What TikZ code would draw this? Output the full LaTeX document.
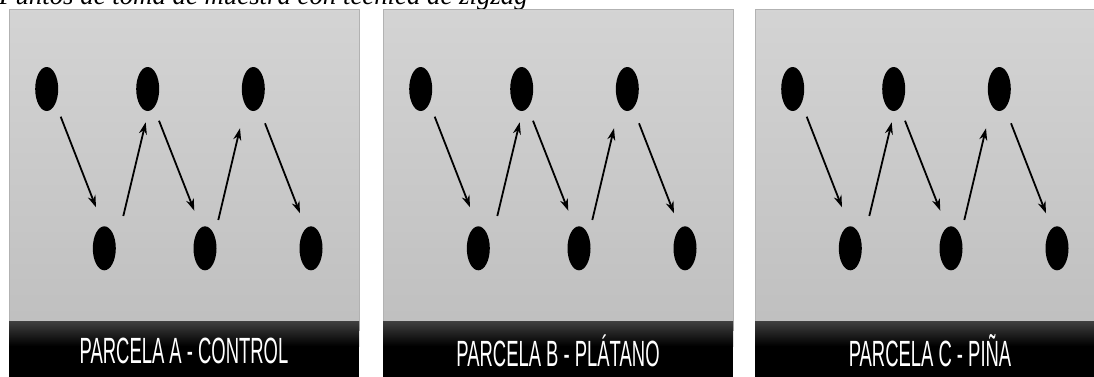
\documentclass[tikz,border=0pt]{standalone}
\usepackage{fontspec}
\setmainfont{Liberation Serif}
\newfontfamily\barfont{Liberation Sans}
\usetikzlibrary{shapes.geometric,arrows.meta}
\begin{document}
\begin{tikzpicture}[x=1pt,y=-1pt,
  dot/.style={ellipse,fill=black,minimum width=23pt,minimum height=44pt,inner sep=0pt},
  arr/.style={line width=1.8pt,-{Stealth[length=12pt,width=8pt]}},
  panelbox/.style={draw=black!30,line width=0.6pt,top color=black!17,bottom color=black!25},
  barshade/.style={top color=black!75,bottom color=black,draw=none},
  bartext/.style={text=white,font=\barfont\fontsize{36.5}{36.5}\selectfont,xscale=0.505,inner sep=0pt}]
\useasboundingbox (0,0) rectangle (1094,376);
\clip (0,0) rectangle (1094,376);
\node[anchor=base west,inner sep=0pt,font=\itshape\fontsize{26.8}{26.8}\selectfont] (title) at (-1,4.5) {Puntos de toma de muestra con técnica de zigzag};
\foreach \o/\lab/\k in {0/{PARCELA A - CONTROL}/a,374/{PARCELA B - PLÁTANO}/b,746/{PARCELA C - PIÑA}/c}{
  \begin{scope}[shift={(\o,0)}]
    \path[panelbox] (9,9) rectangle (359,330);
    \fill[black] (9,345) rectangle (359,380);
    \path[barshade] (9,321) rectangle (359,346);
    \node[bartext] (lab\k) at (184,350.5) {\lab};
    \node[dot] (d1\k) at (46.7,89) {};
    \node[dot] (d2\k) at (147.7,89) {};
    \node[dot] (d3\k) at (253.3,89) {};
    \node[dot] (d4\k) at (104.3,248.3) {};
    \node[dot] (d5\k) at (205,248.3) {};
    \node[dot] (d6\k) at (311,248.3) {};
    \draw[arr] ([shift={(14,27.7)}]d1\k.center) -- ([shift={(-8.3,-41)}]d4\k.center);
    \draw[arr] ([shift={(19,-32.3)}]d4\k.center) -- ([shift={(-2,33.3)}]d2\k.center);
    \draw[arr] ([shift={(11.3,31.7)}]d2\k.center) -- ([shift={(-10.7,-37.6)}]d5\k.center);
    \draw[arr] ([shift={(13.3,-28.3)}]d5\k.center) -- ([shift={(-13.3,39.3)}]d3\k.center);
    \draw[arr] ([shift={(11.7,34.3)}]d3\k.center) -- ([shift={(-11,-35)}]d6\k.center);
  \end{scope}
}
\end{tikzpicture}
\end{document}
